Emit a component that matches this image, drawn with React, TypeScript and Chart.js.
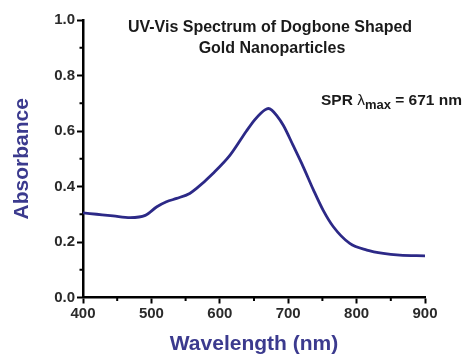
import React, { useEffect, useRef } from "react";
import { Chart, registerables } from "chart.js";

Chart.register(...registerables);

const wavelengths = [400, 420, 444, 469, 491, 508, 522, 537, 556, 566, 590, 615, 639, 651, 660, 666, 671, 676, 683, 693, 707, 722, 737, 751, 766, 790, 815, 839, 863, 900];
const absorbance = [0.305, 0.300, 0.294, 0.288, 0.296, 0.327, 0.345, 0.357, 0.375, 0.393, 0.447, 0.513, 0.600, 0.640, 0.664, 0.676, 0.681, 0.675, 0.656, 0.620, 0.549, 0.471, 0.387, 0.315, 0.255, 0.195, 0.171, 0.159, 0.153, 0.150];

const xMinorTicks = [450, 550, 650, 750, 850];
const yMinorTicks = [0.1, 0.3, 0.5, 0.7, 0.9];

const titleLines = ["UV-Vis Spectrum of Dogbone Shaped", "Gold Nanoparticles"];
const xTitle = "Wavelength (nm)";
const yTitle = "Absorbance";

const LINE_COLOR = "#2c2987";
const LABEL_COLOR = "#3b3a8e";
const FONT = "Liberation Sans, Arial, Helvetica, sans-serif";

const overlayPlugin = {
  id: "overlay",
  afterDraw(chart: any) {
    const { ctx, chartArea, scales } = chart;
    const xs = scales.x;
    const ys = scales.y;
    ctx.save();
    ctx.strokeStyle = "#000";
    ctx.lineWidth = 2;
    xMinorTicks.forEach((v) => {
      const px = xs.getPixelForValue(v);
      ctx.beginPath();
      ctx.moveTo(px, chartArea.bottom);
      ctx.lineTo(px, chartArea.bottom + 3.5);
      ctx.stroke();
    });
    yMinorTicks.forEach((v) => {
      const py = ys.getPixelForValue(v);
      ctx.beginPath();
      ctx.moveTo(chartArea.left - 3.5, py);
      ctx.lineTo(chartArea.left, py);
      ctx.stroke();
    });
    // title
    ctx.fillStyle = "#1a1a1a";
    ctx.font = `bold 16px ${FONT}`;
    ctx.textAlign = "center";
    ctx.textBaseline = "alphabetic";
    ctx.fillText(titleLines[0], 270, 32);
    ctx.fillText(titleLines[1], 272, 52.5);
    // SPR annotation
    ctx.textAlign = "left";
    let x = 321;
    const base = 105;
    const p1 = "SPR ";
    ctx.font = `bold 15.5px ${FONT}`;
    ctx.fillText(p1, x, base);
    x += ctx.measureText(p1).width;
    ctx.font = `15.5px ${FONT}`;
    ctx.fillText("\u03bb", x, base);
    x += ctx.measureText("\u03bb").width;
    ctx.font = `bold 13px ${FONT}`;
    ctx.fillText("max", x, base + 4);
    x += ctx.measureText("max").width;
    ctx.font = `bold 15.5px ${FONT}`;
    ctx.fillText(" = 671 nm", x, base);
    ctx.restore();
  },
};

export default function App() {
  const ref = useRef<HTMLCanvasElement | null>(null);
  useEffect(() => {
    if (!ref.current) return;
    const data = wavelengths.map((w, i) => ({ x: w, y: absorbance[i] }));
    const chart = new Chart(ref.current, {
      type: "line",
      data: {
        datasets: [
          {
            data,
            borderColor: LINE_COLOR,
            borderWidth: 2.8,
            pointRadius: 0,
            tension: 0.4,
            cubicInterpolationMode: "monotone",
            fill: false,
          },
        ],
      },
      options: {
        animation: false,
        responsive: false,
        layout: { padding: { top: 20, right: 45, left: 0, bottom: 0 } },
        plugins: { legend: { display: false }, tooltip: { enabled: false }, title: { display: false } },
        scales: {
          x: {
            type: "linear",
            min: 400,
            max: 900,
            afterFit: (s: any) => {
              s.height = 56.5;
            },
            ticks: {
              stepSize: 100,
              color: "#2a2a2a",
              font: { family: FONT, size: 15, weight: "bold" },
              padding: 1,
              maxRotation: 0,
            },
            grid: { drawOnChartArea: false, tickLength: 6, tickWidth: 2, tickColor: "#000" },
            border: { color: "#000", width: 2.5 },
            title: {
              display: true,
              text: xTitle,
              color: LABEL_COLOR,
              font: { family: FONT, size: 21, weight: "bold", lineHeight: 0.95 },
              padding: { top: 0, bottom: 0 },
            },
          },
          y: {
            min: 0,
            max: 1,
            afterFit: (s: any) => {
              s.width = 83;
            },
            ticks: {
              stepSize: 0.2,
              color: "#2a2a2a",
              font: { family: FONT, size: 15, weight: "bold" },
              padding: 2,
              callback: (v: any) => Number(v).toFixed(1),
            },
            grid: { drawOnChartArea: false, tickLength: 6, tickWidth: 2, tickColor: "#000" },
            border: { color: "#000", width: 2.5 },
            title: {
              display: true,
              text: yTitle,
              color: LABEL_COLOR,
              font: { family: FONT, size: 21, weight: "bold", lineHeight: 1 },
              padding: { top: 12, bottom: 0 },
            },
          },
        },
      },
      plugins: [overlayPlugin],
    });
    return () => chart.destroy();
  }, []);
  return (
    <div style={{ position: "fixed", left: 0, top: 0, width: 470, height: 354, background: "#fff" }}>
      <canvas ref={ref} width={470} height={354} style={{ width: 470, height: 354 }} />
    </div>
  );
}
